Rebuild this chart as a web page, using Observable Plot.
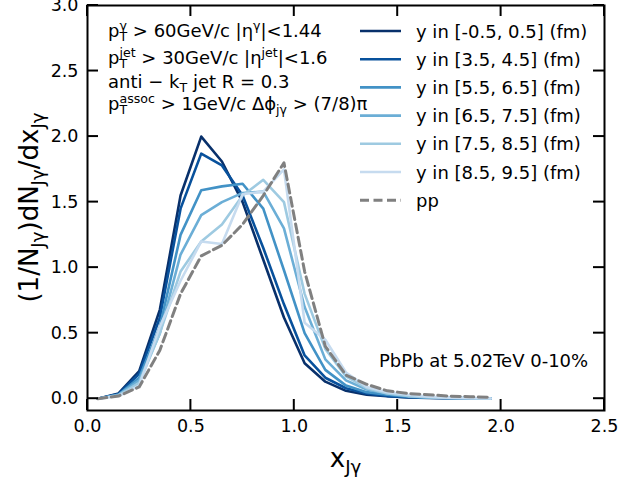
<!DOCTYPE html>
<html><head><meta charset="utf-8">
<script src="https://cdn.jsdelivr.net/npm/d3@7"></script>
<script src="https://cdn.jsdelivr.net/npm/@observablehq/plot@0.6"></script>
<style>body{margin:0;background:#fff} svg{font-family:"DejaVu Sans",sans-serif}</style>
</head><body><div id="chart"></div>
<script>
// ---- data ----
const xBins = [0.05,0.15,0.25,0.35,0.45,0.55,0.65,0.75,0.85,0.95,1.05,1.15,1.25,1.35,1.45,1.55,1.65,1.75,1.85,1.95];
const seriesNames = ["y in [-0.5, 0.5] (fm)","y in [3.5, 4.5] (fm)","y in [5.5, 6.5] (fm)","y in [6.5, 7.5] (fm)","y in [7.5, 8.5] (fm)","y in [8.5, 9.5] (fm)"];
const seriesColors = ["#08306b","#08519c","#4292c6","#6baed6","#9ecae1","#c6dbef"];
const y0 = [0.0,0.04,0.21,0.68,1.55,2.0,1.81,1.5,1.06,0.62,0.27,0.13,0.06,0.03,0.02,0.01,0.005,0.003,0.002,0.001];
const y1 = [0.0,0.035,0.19,0.62,1.45,1.87,1.78,1.55,1.15,0.72,0.33,0.16,0.08,0.04,0.02,0.012,0.007,0.004,0.002,0.001];
const y2 = [0.0,0.03,0.16,0.55,1.25,1.59,1.62,1.64,1.45,0.98,0.5,0.22,0.1,0.05,0.03,0.015,0.008,0.005,0.003,0.001];
const y3 = [0.0,0.03,0.14,0.5,1.1,1.4,1.5,1.57,1.58,1.3,0.7,0.3,0.14,0.07,0.04,0.02,0.01,0.006,0.003,0.002];
const y4 = [0.0,0.025,0.12,0.5,0.97,1.2,1.33,1.55,1.67,1.5,0.8,0.38,0.17,0.08,0.04,0.02,0.012,0.006,0.003,0.002];
const y5 = [0.0,0.02,0.1,0.55,0.9,1.2,1.18,1.56,1.58,1.75,0.58,0.45,0.2,0.09,0.05,0.03,0.015,0.008,0.004,0.002];
const ppName = "pp";
const ppValues = [0.0,0.02,0.09,0.37,0.8,1.09,1.17,1.33,1.55,1.8,0.97,0.4,0.18,0.11,0.06,0.04,0.03,0.02,0.015,0.01];
const xTicks = [0,0.5,1.0,1.5,2.0,2.5];
const yTicks = [0,0.5,1.0,1.5,2.0,2.5,3.0];

const allSeries = [y0,y1,y2,y3,y4,y5];
const rows = [];
allSeries.forEach((vals, i) => vals.forEach((v, j) => rows.push({x: xBins[j], y: v, s: seriesNames[i]})));
const ppRows = ppValues.map((v, j) => ({x: xBins[j], y: v}));

const W = 620, H = 479, ML = 87, MR = 16, MT = 5, MB = 69;
const TL = 11;
const plot = Plot.plot({
  width: W, height: H,
  marginLeft: ML, marginRight: MR, marginTop: MT, marginBottom: MB,
  style: {fontFamily: "DejaVu Sans", fontSize: "17.5px", background: "white", color: "black", overflow: "visible"},
  x: {domain: [0, 2.5]},
  y: {domain: [-0.09, 3.0]},
  color: {domain: seriesNames, range: seriesColors},
  marks: [
    Plot.line(rows, {x: "x", y: "y", z: "s", stroke: "s", strokeWidth: 2.6}),
    Plot.line(ppRows, {x: "x", y: "y", stroke: "#808080", strokeWidth: 3, strokeDasharray: "9,4.5"}),
    Plot.frame({stroke: "black", strokeWidth: 2}),
    Plot.axisX(xTicks, {tickSize: 0, tickPadding: 9, stroke: "none", label: null, tickFormat: d => d.toFixed(1)}),
    Plot.axisY(yTicks, {tickSize: 0, tickPadding: 9, stroke: "none", label: null, tickFormat: d => d.toFixed(1)})
  ]
});
document.getElementById("chart").appendChild(plot);

const svg = d3.select(plot);
// inward ticks on all four sides, placed with Plot's own scales
const sx = plot.scale("x"), sy = plot.scale("y");
const fx = v => { const p = (sx && sx.apply) ? sx.apply(v) : NaN; return isFinite(p) ? p : ML + v / 2.5 * (W - ML - MR); };
const fy = v => { const p = (sy && sy.apply) ? sy.apply(v) : NaN; return isFinite(p) ? p : H - MB - (v + 0.09) / 3.09 * (H - MT - MB); };
const xL = ML, xR = W - MR, yT = MT, yB = H - MB;
const tg = svg.append("g").attr("stroke", "black").attr("stroke-width", 2).attr("fill", "none");
xTicks.forEach(v => {
  const px = fx(v);
  tg.append("path").attr("d", `M${px},${yB}V${yB - TL}`);
  tg.append("path").attr("d", `M${px},${yT}V${yT + TL}`);
});
yTicks.forEach(v => {
  const py = fy(v);
  tg.append("path").attr("d", `M${xL},${py}H${xL + TL}`);
  tg.append("path").attr("d", `M${xR},${py}H${xR - TL}`);
});

const g = svg.append("g").attr("fill", "black").attr("text-anchor", "start").style("font-family", "DejaVu Sans");

function rich(parent, x, y, parts, size, anchor = "start", transform = null) {
  const t = parent.append("text").attr("x", x).attr("y", y).attr("font-size", size).attr("text-anchor", anchor);
  if (transform) t.attr("transform", transform);
  let cur = 0;
  let pendingDx = 0;
  const s = size * 0.7;
  for (const p of parts) {
    if (p.t !== undefined) {
      t.append("tspan").attr("dy", -cur).attr("dx", pendingDx).text(p.t);
      cur = 0; pendingDx = 0;
    } else if (p.sup !== undefined && p.sub !== undefined) {
      const up = -size * 0.38, dn = size * 0.22;
      const a = t.append("tspan").attr("font-size", s).attr("dy", up - cur).attr("dx", pendingDx).text(p.sup);
      const wa = a.node().getComputedTextLength();
      const b = t.append("tspan").attr("font-size", s).attr("dy", dn - up).attr("dx", -wa).text(p.sub);
      const wb = b.node().getComputedTextLength();
      cur = dn; pendingDx = Math.max(0, wa - wb);
    } else if (p.sub !== undefined) {
      const dn = size * 0.22;
      t.append("tspan").attr("font-size", s).attr("dy", dn - cur).attr("dx", pendingDx).text(p.sub);
      cur = dn; pendingDx = 0;
    } else if (p.sup !== undefined) {
      const up = -size * 0.38;
      t.append("tspan").attr("font-size", s).attr("dy", up - cur).attr("dx", pendingDx).text(p.sup);
      cur = up; pendingDx = 0;
    }
  }
  return t;
}

const fs = 18;
rich(g, 108, 37, [{t: "p"}, {sup: "γ", sub: "T"}, {t: " > 60GeV/c |η"}, {sup: "γ"}, {t: "|<1.44"}], fs);
rich(g, 108, 64, [{t: "p"}, {sup: "jet", sub: "T"}, {t: " > 30GeV/c |η"}, {sup: "jet"}, {t: "|<1.6"}], fs);
rich(g, 108, 88, [{t: "anti − k"}, {sub: "T"}, {t: " jet R = 0.3"}], fs);
rich(g, 108, 110, [{t: "p"}, {sup: "assoc", sub: "T"}, {t: " > 1GeV/c Δϕ"}, {sub: "jγ"}, {t: " > (7/8)π"}], fs);

rich(g, 379, 367, [{t: "PbPb at 5.02TeV 0-10%"}], fs);

rich(g, (ML + W - MR) / 2, 467, [{t: "x"}, {sub: "Jγ"}], 26, "middle");
rich(g, 0, 0, [{t: "(1/N"}, {sub: "Jγ"}, {t: ")dN"}, {sub: "Jγ"}, {t: "/dx"}, {sub: "Jγ"}], 26, "middle", `translate(38,${(MT + H - MB) / 2}) rotate(-90)`);

const legendItems = seriesNames.map((n, i) => ({name: n, color: seriesColors[i], dash: null, w: 2.6}))
  .concat([{name: ppName, color: "#808080", dash: "9,4.5", w: 3}]);
const lg = g.append("g");
legendItems.forEach((d, i) => {
  const yy = 31 + i * 28.2;
  lg.append("line").attr("x1", 360).attr("x2", 401).attr("y1", yy).attr("y2", yy)
    .attr("stroke", d.color).attr("stroke-width", d.w).attr("stroke-dasharray", d.dash);
  lg.append("text").attr("x", 416).attr("y", yy + 6.5).attr("font-size", fs).attr("text-anchor", "start").text(d.name);
});
</script>
</body></html>
